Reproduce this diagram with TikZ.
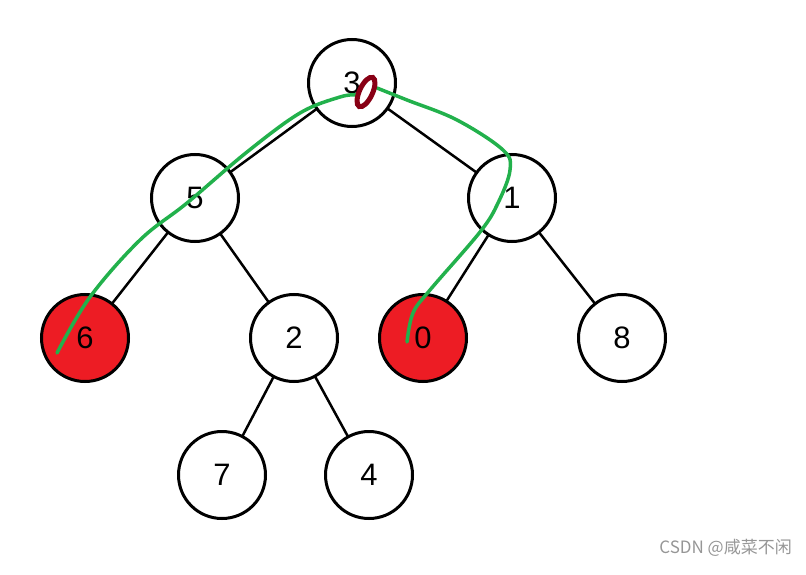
\documentclass[tikz,border=0pt]{standalone}
\usepackage{fontspec}
\setmainfont{Liberation Sans}
\newfontfamily\cjkwm{Noto Sans CJK SC}
\usepackage{tikz}
\definecolor{paintred}{RGB}{237,28,36}
\definecolor{paintgreen}{RGB}{34,177,76}
\definecolor{darkmark}{RGB}{136,0,21}
\definecolor{wmgray}{RGB}{150,150,150}

\begin{document}
\begin{tikzpicture}
[
x=1pt,y=-1pt,
vertex/.style={draw,circle,line width=3pt,minimum size=87pt,inner sep=0pt,fill=white,font=\fontsize{31}{31}\selectfont},
hit/.style={vertex,fill=paintred},
branch/.style={line width=2.5pt},
trace/.style={draw=paintgreen,line width=3.5pt,line cap=round,line join=round},
]
\useasboundingbox (0,0) rectangle (806,575);

%Draw the connections first, nodes on top
\coordinate (p3) at (352,83);
\coordinate (p5) at (195,198);
\coordinate (p1) at (512,198);
\coordinate (p6) at (85,338);
\coordinate (p2) at (294,338);
\coordinate (p0) at (423,338);
\coordinate (p8) at (622,338);
\coordinate (p7) at (222,475);
\coordinate (p4) at (369,475);
\draw[branch] (p3) -- (p5);
\draw[branch] (p3) -- (p1);
\draw[branch] (p5) -- (p6);
\draw[branch] (p5) -- (p2);
\draw[branch] (p1) -- (p0);
\draw[branch] (p1) -- (p8);
\draw[branch] (p2) -- (p7);
\draw[branch] (p2) -- (p4);

%Place the nodes
\node[vertex] (n3) at (p3) {3};
\node[vertex] (n5) at (p5) {5};
\node[vertex] (n1) at (p1) {1};
\node[hit] (n6) at (p6) {6};
\node[vertex] (n2) at (p2) {2};
\node[hit] (n0) at (p0) {0};
\node[vertex] (n8) at (p8) {8};
\node[vertex] (n7) at (p7) {7};
\node[vertex] (n4) at (p4) {4};

%Green strokes and the mark
\draw[trace] plot[smooth,tension=0.6] coordinates {(57,353) (90,297) (140,240) (187,203) (247,152) (300,113) (340,97) (356,95)};
\draw[trace] plot[smooth,tension=0.6] coordinates {(377,88) (407,100) (457,120) (503,150) (510,170) (498,203) (480,232) (430,290) (413,313) (407,342)};
\draw[darkmark,line width=5pt,rotate around={65:(366,92)}] (366,92) ellipse (16pt and 6.5pt);

%Watermark
\node[text=wmgray,anchor=east,font=\cjkwm\fontsize{17}{17}\selectfont,inner sep=0pt] (wm) at (792,548) {CSDN @咸菜不闲};
\end{tikzpicture}
\end{document}
